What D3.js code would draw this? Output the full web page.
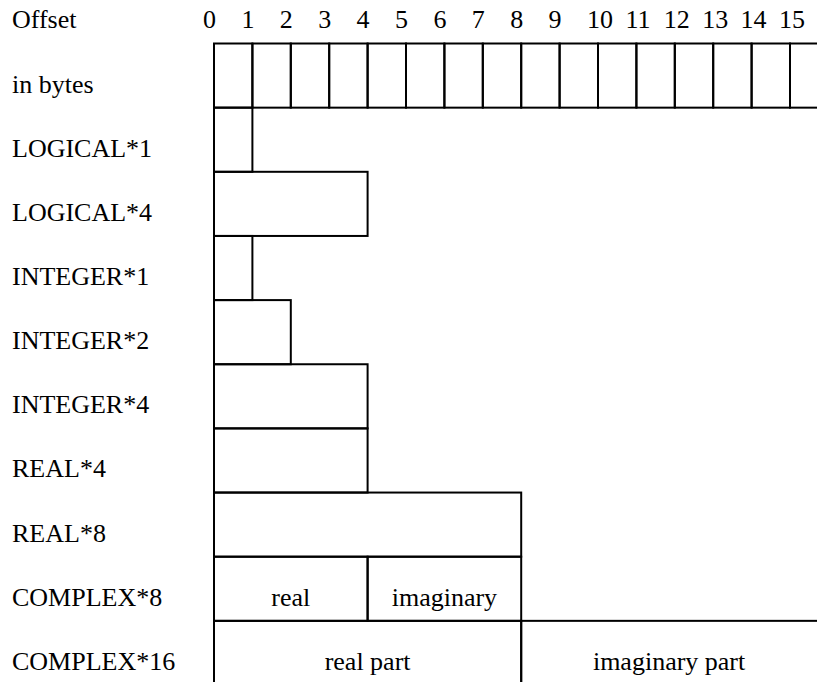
<!DOCTYPE html>
<html>
<head>
<meta charset="utf-8">
<script src="https://cdn.jsdelivr.net/npm/d3@7"></script>
<style>
  body { margin: 0; background: #fff; }
</style>
</head>
<body>
<svg width="817" height="682"></svg>
<script>
// byte offsets shown along the top
var offsets = d3.range(0, 16);

// row names, and the byte sizes of the pieces in each row
var rowNames = ['in bytes', 'LOGICAL*1', 'LOGICAL*4', 'INTEGER*1', 'INTEGER*2',
                'INTEGER*4', 'REAL*4', 'REAL*8', 'COMPLEX*8', 'COMPLEX*16'];
var rowParts = [
    d3.range(16).map(() => 1),
    [1], [4], [1], [2], [4], [4], [8],
    [4, 4],
    [8, 8]
];
var partLabels = [
    [], [], [], [], [], [], [], [],
    ['real', 'imaginary'],
    ['real part', 'imaginary part']
];

var svg = d3.select('svg')
    .attr('font-family', "'Liberation Serif', 'Times New Roman', Times, serif")
    .attr('font-size', 26);

var x = d3.scaleLinear().domain([0, 16]).range([214, 828.4]);
var y = d3.scaleLinear().domain([0, 10]).range([43.5, 685]);
var rowH = y(1) - y(0);

// header
svg.append('text').attr('x', 12).attr('y', y(-1) + 49).text('Offset');

svg.append('g')
    .selectAll('text')
    .data(offsets)
    .enter()
    .append('text')
    .attr('x', d => x(d) - 11)
    .attr('y', y(-1) + 49)
    .text(d => d);

// build the boxes
var boxes = [];
rowParts.forEach(function(parts, r) {
    var start = 0;
    parts.forEach(function(size, i) {
        boxes.push({row: r, start: start, size: size, label: partLabels[r][i] || ''});
        start += size;
    });
});

var rows = svg.append('g');

rows.selectAll('rect')
    .data(boxes)
    .enter()
    .append('rect')
    .attr('x', d => x(d.start))
    .attr('y', d => y(d.row))
    .attr('width', d => x(d.start + d.size) - x(d.start))
    .attr('height', rowH)
    .attr('fill', 'none')
    .attr('stroke', '#000')
    .attr('stroke-width', 2);

rows.selectAll('text.part')
    .data(boxes.filter(d => d.label))
    .enter()
    .append('text')
    .attr('class', 'part')
    .attr('text-anchor', 'middle')
    .attr('x', d => (x(d.start) + Math.min(x(d.start + d.size), 817)) / 2)
    .attr('y', d => y(d.row) + 49)
    .text(d => d.label);

// row names
svg.append('g')
    .selectAll('text')
    .data(rowNames)
    .enter()
    .append('text')
    .attr('x', 12)
    .attr('y', (d, i) => y(i) + 49)
    .text(d => d);
</script>
</body>
</html>
